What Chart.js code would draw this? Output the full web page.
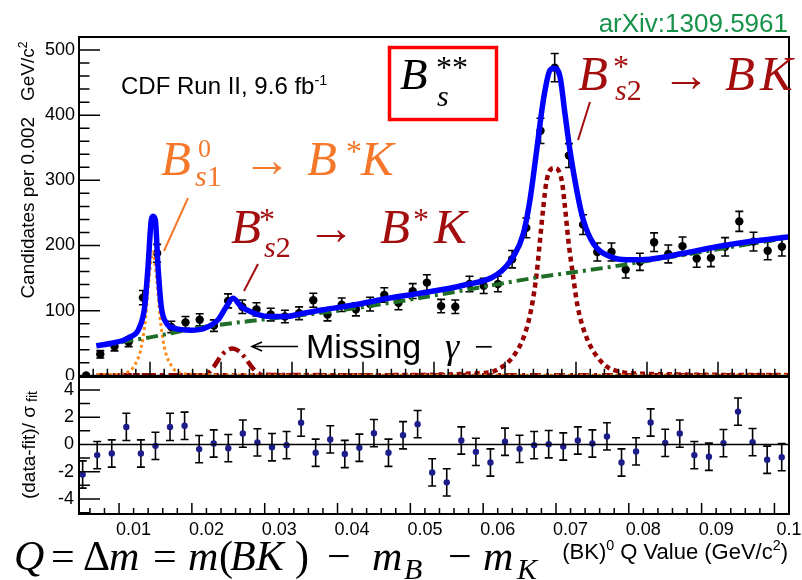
<!DOCTYPE html>
<html><head><meta charset="utf-8">
<script src="https://cdn.jsdelivr.net/npm/chart.js@4.4.1/dist/chart.umd.min.js"></script>
<style>
html,body{margin:0;padding:0;background:#fff;}
body{width:802px;height:580px;position:relative;overflow:hidden;font-family:"Liberation Sans",Arial,Helvetica,sans-serif;}
canvas{position:absolute;left:0;}
#c1{top:0}
#c2{top:372px}
.t{position:absolute;white-space:nowrap;line-height:1;}
.rot{position:absolute;white-space:nowrap;line-height:1;transform:translate(-50%,-50%) rotate(-90deg);font-size:19px;color:#000;}
svg{position:absolute;left:0;top:0}
</style></head>
<body>
<canvas id="c1" width="802" height="380"></canvas>
<canvas id="c2" width="802" height="208"></canvas>
<svg width="802" height="580">
  <rect x="389.5" y="47.5" width="107" height="72" fill="none" stroke="#ff0000" stroke-width="3.5"/>
  <line x1="188" y1="198" x2="164" y2="251" stroke="#f5782a" stroke-width="2"/>
  <line x1="258" y1="264" x2="244" y2="291" stroke="#a30d0d" stroke-width="2"/>
  <line x1="590" y1="102" x2="578" y2="140" stroke="#a30d0d" stroke-width="2"/>
  <line x1="253" y1="346.5" x2="298" y2="346.5" stroke="#000" stroke-width="1.6"/>
  <polyline points="262,342 252,346.5 262,351" fill="none" stroke="#000" stroke-width="1.6"/>
</svg>
<div class="rot" style="left:27px;top:170px">Candidates per 0.002 &nbsp;&nbsp;GeV/c<sup style="font-size:0.65em;vertical-align:0.55em;line-height:0">2</sup></div>
<div class="rot" style="left:28px;top:445px">(data-fit)/ σ<sub style="font-size:0.75em;vertical-align:-0.2em;line-height:0"> fit</sub></div>
<div class="t" style="right:14px;top:10px;font-size:26px;color:#17924a">arXiv:1309.5961</div>
<div class="t" style="left:121px;top:73.5px;font-size:24px;color:#000">CDF Run II, 9.6 fb<sup style="font-size:0.6em;vertical-align:0.6em;line-height:0">-1</sup></div>
<div class="t" style="right:14px;top:541px;font-size:22px;color:#000">(BK)<sup style="font-size:0.65em;vertical-align:0.6em;line-height:0">0</sup> Q Value (GeV/c<sup style="font-size:0.65em;vertical-align:0.6em;line-height:0">2</sup>)</div>
<script>
// ---------------- data ----------------
const binX = [0.001,0.003,0.005,0.007,0.009,0.011,0.013,0.015,0.017,0.019,
              0.021,0.023,0.025,0.027,0.029,0.031,0.033,0.035,0.037,0.039,
              0.041,0.043,0.045,0.047,0.049,0.051,0.053,0.055,0.057,0.059,
              0.061,0.063,0.065,0.067,0.069,0.071,0.073,0.075,0.077,0.079,
              0.081,0.083,0.085,0.087,0.089,0.091,0.093,0.095,0.097,0.099];
const counts = [0.5,33,45,52,120,188,75,82,86,77,
                115,106,102,94,91,96,116,94,109,102,
                110,124,112,130,143,107,106,141,138,141,
                179,227,376,473,338,232,190,190,163,175,
                205,187,199,180,181,198,237,206,192,198];
const countErr = [0,5.7,6.7,7.2,11,13.7,8.7,9.1,9.3,8.8,
                  10.7,10.3,10.1,9.7,9.5,9.8,10.8,9.7,10.4,10.1,
                  10.5,11.1,10.6,11.4,12,10.3,10.3,11.9,11.7,11.9,
                  13.4,15.1,19.4,21.7,18.4,15.2,13.8,13.8,12.8,13.2,
                  14.3,13.7,14.1,13.4,13.5,14.1,15.4,14.4,13.9,14.1];

// total fit (blue)
const fitX = [0.00244,0.00455,0.0069,0.00855,0.00925,0.00972,0.01018,0.01042,0.01075,0.01113,
              0.01159,0.0123,0.01348,0.01582,0.0177,0.01958,0.02075,0.02169,0.02286,0.02427,
              0.02521,0.0269,0.02925,0.03113,0.03418,0.03887,0.04356,0.04827,0.05413,0.05883,
              0.06117,0.06258,0.06352,0.06446,0.0654,0.06634,0.06694,0.06775,0.06845,0.06915,
              0.0701,0.07103,0.07244,0.07479,0.07714,0.08042,0.08511,0.08982,0.09451,0.0999];
const fitY = [46,50,58,75,106,167,239,245,239,167,
              106,81,73,70,73,86,106,119,106,98,
              94,91,91,95,101,109,119,127,139,155,
              183,218,270,346,423,469,472,459,402,346,
              285,239,203,183,178,179,188,198,206,213];
// B_s1 -> B*K component (orange dotted)
const bs1X = [0.0025,0.005,0.0064,0.0077,0.0088,0.0094,0.0098,0.0104,0.0110,0.0114,0.0120,0.0131,0.0144,0.018,0.03,0.1];
const bs1Y = [2,2,4,14,45,91,142,190,142,91,45,14,4,1.5,1,1];
// B_s2* -> BK component (dark red dashed)
const bs2X = [0.0025,0.04,0.05648,0.05883,0.06117,0.06282,0.06376,0.06446,0.06493,0.0654,0.06587,0.06694,
              0.06799,0.06845,0.06892,0.06954,0.07024,0.07127,0.07292,0.07525,0.08,0.1];
const bs2Y = [1,1,4,9,30,65,106,157,208,259,300,319,300,259,208,157,106,65,30,9,3,1];
// B_s2* -> B*K component, missing photon (dark red dash-dot)
const gamX = [0.0025,0.0175,0.0183,0.019,0.0199,0.0207,0.0216,0.0225,0.0233,0.0243,0.0251,0.0262,0.04,0.1];
const gamY = [1,1,5,14,29,38,42,38,29,14,5,1.5,1,1];
// background (green dash-dot)
const bgX = [0.0025,0.006,0.01,0.017,0.0264,0.0358,0.045,0.0546,0.064,0.0748,0.0804,0.0999];
const bgY = [46,52,59,74,87,99,114,132,150,167,177,212];

// residuals (lower panel)
const resX = [0.003,0.005,0.007,0.009,0.011,0.013,0.015,0.017,0.019,
              0.021,0.023,0.025,0.027,0.029,0.031,0.033,0.035,0.037,0.039,
              0.041,0.043,0.045,0.047,0.049,0.051,0.053,0.055,0.057,0.059,
              0.061,0.063,0.065,0.067,0.069,0.071,0.073,0.075,0.077,0.079,
              0.081,0.083,0.085,0.087,0.089,0.091,0.093,0.095,0.097,0.099];
const resY = [-2.2,-0.78,-0.66,1.29,-0.66,-0.1,1.29,1.37,-0.34,
              0.07,-0.27,0.8,0.15,-0.2,-0.05,1.6,-0.61,0.37,-0.7,
              -0.24,0.83,-0.61,0.68,1.49,-2.05,-2.78,0.29,-0.54,-1.32,
              0.2,-0.32,-0.05,0.02,-0.15,0.29,0.07,0.59,-1.32,-0.51,
              1.61,0.12,0.8,-0.78,-0.9,0.1,2.41,0.17,-1.12,-0.93];
const resErr = [1,1,1,1,1,1,1,1,1, 1,1,1,1,1,1,1,1,1,1, 1,1,1,1,1,1,1,1,1,1,
                1,1,1,1,1,1,1,1,1,1, 1,1,1,1,1,1,1,1,1,1];

// tick labels
const upperYTickVals = [0,100,200,300,400,500];
const upperYTickLabels = ['0','100','200','300','400','500'];
const lowerYTickVals = [-4,-2,0,2,4];
const lowerYTickLabels = ['-4','-2','0','2','4'];
const xTickVals = [0.01,0.02,0.03,0.04,0.05,0.06,0.07,0.08,0.09,0.1];
const xTickLabels = ['0.01','0.02','0.03','0.04','0.05','0.06','0.07','0.08','0.09','0.1'];

// ---------------- helpers ----------------
const SANS = '"Liberation Sans", Arial, Helvetica, sans-serif';
const SERIF = '"Liberation Serif", "Times New Roman", serif';
const pts = (xs, ys) => xs.map((x, i) => ({x, y: ys[i]}));
const noPad = s => { s.paddingTop = 0; s.paddingBottom = 0; s.paddingLeft = 0; s.paddingRight = 0; };

function errPlugin(xs, ys, es, cap, lw) {
  return {
    id: 'errbars',
    beforeDatasetsDraw(chart) {
      const {ctx, chartArea: a} = chart;
      const sx = chart.scales.x, sy = chart.scales.y;
      ctx.save();
      ctx.beginPath(); ctx.rect(a.left, a.top - 2, a.right - a.left, a.bottom - a.top + 4); ctx.clip();
      ctx.strokeStyle = '#000'; ctx.lineWidth = lw;
      ctx.beginPath();
      xs.forEach((x, i) => {
        if (!es[i]) return;
        const px = sx.getPixelForValue(x);
        const y1 = sy.getPixelForValue(ys[i] - es[i]);
        const y2 = sy.getPixelForValue(ys[i] + es[i]);
        ctx.moveTo(px, y1); ctx.lineTo(px, y2);
        ctx.moveTo(px - cap, y1); ctx.lineTo(px + cap, y1);
        ctx.moveTo(px - cap, y2); ctx.lineTo(px + cap, y2);
      });
      ctx.stroke();
      ctx.restore();
    }
  };
}

function frameTicks(yT, xT, zeroLine) {
  return {
    id: 'frameTicks',
    afterDraw(chart) {
      const {ctx, chartArea: a} = chart;
      const sx = chart.scales.x, sy = chart.scales.y;
      ctx.save();
      ctx.strokeStyle = '#000';
      ctx.lineWidth = 1.5;
      ctx.beginPath();
      yT.forEach(t => { const p = sy.getPixelForValue(t.v); ctx.moveTo(a.left, p); ctx.lineTo(a.left + t.len, p); });
      xT.forEach(t => { const p = sx.getPixelForValue(t.v); ctx.moveTo(p, a.bottom); ctx.lineTo(p, a.bottom - t.len); });
      if (zeroLine) { const p = sy.getPixelForValue(0); ctx.moveTo(a.left, p); ctx.lineTo(a.right, p); }
      ctx.stroke();
      ctx.lineWidth = 2;
      ctx.strokeRect(a.left, a.top, a.right - a.left, a.bottom - a.top);
      ctx.restore();
    }
  };
}
function tickList(from, to, step, majorEvery, majLen, minLen) {
  const out = [];
  const n = Math.round((to - from) / step);
  for (let i = 0; i <= n; i++) {
    const v = from + i * step;
    out.push({v, len: (i % majorEvery === 0) ? majLen : minLen});
  }
  return out;
}

Chart.defaults.font.family = SANS;

// ---------------- upper panel ----------------
new Chart(document.getElementById('c1'), {
  type: 'scatter',
  data: { datasets: [
    { data: pts(fitX, fitY), showLine: true, borderColor: '#0000ff', borderWidth: 5.5, pointRadius: 0,
      cubicInterpolationMode: 'monotone', order: 0 },
    { data: pts(bgX, bgY), showLine: true, borderColor: '#1e6e28', borderWidth: 4, borderDash: [12, 5, 3, 5],
      pointRadius: 0, cubicInterpolationMode: 'monotone', order: 1 },
    { data: pts(bs1X, bs1Y), showLine: true, borderColor: '#ff8c1a', borderWidth: 3, borderDash: [3, 3],
      pointRadius: 0, cubicInterpolationMode: 'monotone', order: 2 },
    { data: pts(bs2X, bs2Y), showLine: true, borderColor: '#990000', borderWidth: 4.5, borderDash: [5, 4],
      pointRadius: 0, cubicInterpolationMode: 'monotone', order: 3 },
    { data: pts(gamX, gamY), showLine: true, borderColor: '#990000', borderWidth: 4.5, borderDash: [11, 5, 3, 5],
      pointRadius: 0, cubicInterpolationMode: 'monotone', order: 4 },
    { data: pts(binX, counts), showLine: false, pointRadius: 4.2, pointBackgroundColor: '#000',
      pointBorderWidth: 0, pointBorderColor: '#000', order: 5 }
  ]},
  options: {
    responsive: false, animation: false, devicePixelRatio: 1,
    layout: { padding: { left: 0, right: 13, top: 37, bottom: 3 } },
    plugins: { legend: { display: false }, tooltip: { enabled: false } },
    scales: {
      x: { type: 'linear', min: 0, max: 0.1, display: false },
      y: { type: 'linear', min: 0, max: 520,
           afterFit: s => { s.width = 79; noPad(s); },
           afterBuildTicks: s => { s.ticks = upperYTickVals.map(v => ({value: v})); },
           ticks: { color: '#000', font: { size: 18, family: SANS }, padding: 4,
                    callback: (v, i) => upperYTickLabels[i] },
           grid: { display: false, drawTicks: false }, border: { display: false } }
    }
  },
  plugins: [errPlugin(binX, counts, countErr, 4, 1.6),
            frameTicks(tickList(0, 520, 20, 5, 21, 10.5), tickList(0, 0.1, 0.002, 5, 14, 7), false)]
});

// ---------------- lower panel ----------------
new Chart(document.getElementById('c2'), {
  type: 'scatter',
  data: { datasets: [
    { data: pts(resX, resY), showLine: false, pointRadius: 3.2, pointBackgroundColor: '#1c1c8a',
      pointBorderWidth: 0 }
  ]},
  options: {
    responsive: false, animation: false, devicePixelRatio: 1,
    layout: { padding: { left: 0, right: 13, top: 5, bottom: 0 } },
    plugins: { legend: { display: false }, tooltip: { enabled: false } },
    scales: {
      x: { type: 'linear', min: 0.0025, max: 0.1,
           afterFit: s => { s.height = 66; noPad(s); },
           afterBuildTicks: s => { s.ticks = xTickVals.map(v => ({value: v})); },
           ticks: { color: '#000', font: { size: 18, family: SANS }, padding: 5, autoSkip: false, maxRotation: 0,
                    callback: (v, i) => xTickLabels[i] },
           grid: { display: false, drawTicks: false }, border: { display: false } },
      y: { type: 'linear', min: -5.1, max: 4.95,
           afterFit: s => { s.width = 79; noPad(s); },
           afterBuildTicks: s => { s.ticks = lowerYTickVals.map(v => ({value: v})); },
           ticks: { color: '#000', font: { size: 18, family: SANS }, padding: 5,
                    callback: (v, i) => lowerYTickLabels[i] },
           grid: { display: false, drawTicks: false }, border: { display: false } }
    }
  },
  plugins: [errPlugin(resX, resY, resErr, 4, 1.6),
            frameTicks(tickList(-5, 4, 1, 2, 21, 11).map(t => ({v: t.v, len: (Math.abs(t.v) % 2 === 0) ? 21 : 11})),
                       tickList(0.004, 0.1, 0.002, 5, 11, 6).map((t, i) => ({v: t.v, len: ((i + 3) % 5 === 0) ? 11 : 6})), true)]
});

// ---------------- annotation text (HTML, real text) ----------------
function put(html, x, base, size, color, opts = {}) {
  const d = document.createElement('div');
  d.className = 't';
  d.innerHTML = html;
  d.style.fontFamily = opts.sans ? SANS : SERIF;
  d.style.fontSize = size + 'px';
  d.style.color = color;
  d.style.fontStyle = opts.it ? 'italic' : 'normal';
  d.style.left = x + 'px';
  d.style.top = (base - (opts.sans ? 0.8465 : 0.8375) * size) + 'px';
  document.body.appendChild(d);
}
const OR = '#f5782a', DR = '#a30d0d';
// B_s1^0 -> B* K (orange)
put('B', 161, 175, 49, OR, {it: true});
put('0', 198, 158, 26, OR);
put('<i>s</i>1', 195, 186, 30, OR);
put('→', 243, 176, 48, OR);
put('B', 307, 175, 49, OR, {it: true});
put('*', 346, 162, 32, OR);
put('K', 361, 175, 49, OR, {it: true});
// B_s2* -> B* K (dark red, middle)
put('B', 231, 243, 49, DR, {it: true});
put('*', 259, 230, 32, DR);
put('<i>s</i>2', 264, 257, 30, DR);
put('→', 307, 244, 48, DR);
put('B', 380, 243, 49, DR, {it: true});
put('*', 413, 230, 32, DR);
put('K', 434, 243, 49, DR, {it: true});
// B_s2* -> B K (dark red, top right)
put('B', 578, 90, 49, DR, {it: true});
put('*', 613, 77, 32, DR);
put('<i>s</i>2', 615, 100, 30, DR);
put('→', 662, 91, 48, DR);
put('B', 725, 90, 49, DR, {it: true});
put('K', 760, 90, 49, DR, {it: true});
// B_s** in the red box
put('B', 400, 90, 45, '#000', {it: true});
put('**', 436, 78, 32, '#000');
put('s', 437, 106, 30, '#000', {it: true});
// Missing gamma
put('Missing', 306, 358, 34, '#000', {sans: true});
put('γ', 445, 358, 36, '#000', {it: true});
put('−', 474, 358, 34, '#000');
// Q = Δm = m(BK) - m_B - m_K
const QF = 42;
put('Q', 14, 570, QF, '#000', {it: true});
put('=', 51, 570, QF, '#000');
put('Δ', 83, 570, QF, '#000');
put('m', 109, 570, QF, '#000', {it: true});
put('=', 153, 570, QF, '#000');
put('m', 188, 570, QF, '#000', {it: true});
put('(', 219, 570, QF, '#000');
put('BK', 230, 570, QF, '#000', {it: true});
put(')', 295, 570, QF, '#000');
put('−', 327, 570, QF, '#000');
put('m', 372, 570, QF, '#000', {it: true});
put('B', 404, 579, 30, '#000', {it: true});
put('−', 448, 570, QF, '#000');
put('m', 483, 570, QF, '#000', {it: true});
put('K', 517, 579, 30, '#000', {it: true});
</script>
</body></html>
